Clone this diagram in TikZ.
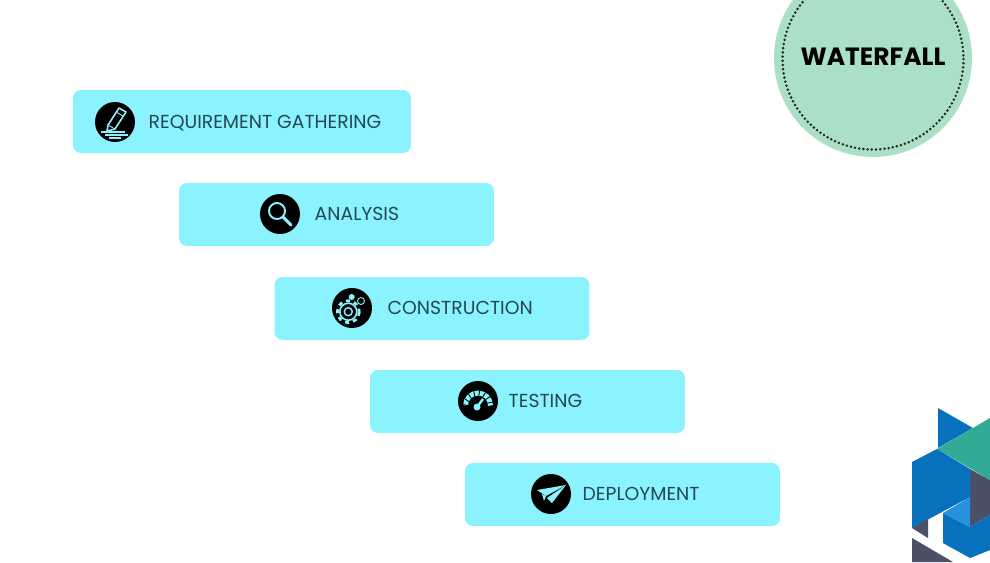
\documentclass[tikz,border=0pt]{standalone}
\usepackage{fontspec}
\setsansfont{Poppins}
\usetikzlibrary{positioning}
\definecolor{boxfill}{RGB}{138,243,255}
\definecolor{circfill}{RGB}{170,225,198}
\definecolor{labeltext}{RGB}{36,72,82}
\definecolor{logoblue}{RGB}{7,113,190}
\definecolor{logolight}{RGB}{38,146,222}
\definecolor{logogreen}{RGB}{49,170,150}
\definecolor{logodark}{RGB}{74,80,102}

\begin{document}
\begin{tikzpicture}[
  x=0.02cm,
  y=-0.02cm,
  font=\sffamily,
  stagebox/.style={
    rounded corners=0.16cm,
    fill=boxfill,
    minimum width=6.3cm,
    minimum height=1.26cm,
    inner sep=0pt
  },
  iconbadge/.style={circle, fill=black, minimum size=0.8cm, inner sep=0pt},
  stagelabel/.style={font=\fontsize{10.7}{12}\sffamily, text=labeltext, inner sep=0pt, anchor=west, text height=7.5pt, text depth=0pt},
  iconline/.style={draw=boxfill, line width=0.5pt}
]

\path[use as bounding box] (0,0) rectangle (990,562);
\clip (0,0) rectangle (990,562);

% boxes
\node[stagebox, minimum width=6.76cm] (req) at (242,121.5) {};
\node[stagebox] (ana) at (336.5,214.5) {};
\node[stagebox] (con) at (432,308.5) {};
\node[stagebox] (tes) at (527.5,401.5) {};
\node[stagebox] (dep) at (622.5,494.5) {};

% icons
\node[iconbadge] (reqicon) at (115,122) {};
\node[iconbadge] (anaicon) at (280,214) {};
\node[iconbadge] (conicon) at (352,308) {};
\node[iconbadge] (tesicon) at (478,401) {};
\node[iconbadge] (depicon) at (551,494) {};

% labels
\node[stagelabel, right=0.26cm of reqicon] (reqtext) {REQUIREMENT GATHERING};
\node[stagelabel, right=0.28cm of anaicon] (anatext) {ANALYSIS};
\node[stagelabel, right=0.30cm of conicon] (context) {CONSTRUCTION};
\node[stagelabel, right=0.20cm of tesicon] (testext) {TESTING};
\node[stagelabel, right=0.22cm of depicon] (deptext) {DEPLOYMENT};

% pencil
\begin{scope}[shift={(reqicon.center)}]
  \draw[iconline, line width=0.9pt, line join=round] (-7,3) -- (4,-14) -- (11,-10) -- (0,7) -- (-8,9) -- cycle;
  \draw[iconline] (-7,3) -- (0,7) (1,-10) -- (8,-6);
  \draw[iconline, line width=1.2pt] (-14,10) -- (10,10) (-10,13) -- (13,13) (-6,16) -- (6,16);
\end{scope}

% magnifier
\begin{scope}[shift={(anaicon.center)}]
  \draw[iconline, line width=1.1pt] (-3,-3) circle (8);
  \draw[iconline, line width=1.8pt, line cap=round] (3,3) -- (11,11);
\end{scope}

% gears
\begin{scope}[shift={(conicon.center)}]
  \draw[boxfill, line width=1.6pt, dash pattern=on 2.3pt off 2.37pt] (-3.7,3.7) circle (11);
  \draw[iconline, line width=0.9pt] (-3.7,3.7) circle (8.5);
  \draw[iconline, line width=0.8pt] (-3.7,3.7) circle (4);
  \draw[iconline, fill=black] (9,-7) circle (3.5);
  \fill[boxfill] (-0.3,-11) circle (3);
\end{scope}

% gauge
\begin{scope}[shift={(tesicon.center)}]
  \draw[boxfill, line width=2.8pt] (-12.5,4.5) arc[start angle=180, end angle=360, radius=12.5];
  \draw[black, line width=2.8pt, dash pattern=on 0.5pt off 2.4pt] (-12.5,4.5) arc[start angle=180, end angle=360, radius=12.5];
  \fill[boxfill] (-1,6) circle (3.5);
  \draw[iconline, line width=1.4pt] (-1,6) -- (5,-2);
\end{scope}

% paper plane
\begin{scope}[shift={(depicon.center)}]
  \fill[boxfill] (-14,-4) -- (15,-9) -- (-5,2) -- cycle;
  \fill[boxfill] (15,-9) -- (1,9) -- (-4,4) -- cycle;
  \fill[boxfill] (-9,0) -- (-5,2) -- (-7,7) -- cycle;
\end{scope}

% badge
\node[circle, fill=circfill, minimum size=3.96cm, inner sep=0pt] (badge) at (873,58) {};
\draw[black!85, line width=1.6pt, line cap=round, dash pattern=on 0pt off 2.4pt] (873,59) circle (90.5);
\node[font=\fontsize{14.2}{16}\sffamily\bfseries, text=black, inner sep=0pt] (badgetext) at (873,57) {WATERFALL};

% logo
\fill[logoblue] (938,408) -- (973,428) -- (938,448) -- cycle;
\fill[logodark] (970,469) -- (990,480) -- (990,515) -- (970,527) -- cycle;
\fill[logoblue] (943,513) -- (970,527) -- (990,515) -- (990,550) -- (970,558) -- (943,543) -- cycle;
\fill[logolight] (943,513) -- (970,497) -- (970,527) -- cycle;
\fill[logoblue] (912,462) -- (937,449) -- (970,469) -- (970,497) -- (912,528) -- cycle;
\fill[logogreen] (937,449) -- (990,418) -- (990,480) -- cycle;
\fill[logodark] (912,528) -- (928,519) -- (928,538) -- cycle;
\fill[logodark] (912,538) -- (953,562) -- (912,562) -- cycle;

\end{tikzpicture}
\end{document}
